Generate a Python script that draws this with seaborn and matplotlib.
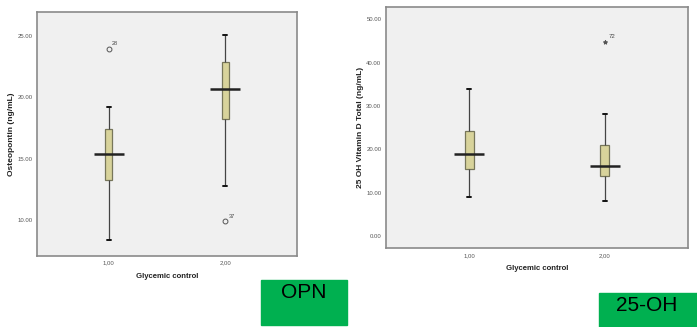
import numpy as np
import pandas as pd
import seaborn as sns
import matplotlib.pyplot as plt
from matplotlib.patches import Rectangle

# group labels on the x axis
groups = ['1,00', '2,00']

# Osteopontin (ng/mL) per glycemic control group, values
opn_g1 = [8.35, 11.0, 12.5, 13.27, 14.0, 14.8, 15.39, 16.0, 16.8, 17.37, 18.0, 19.16, 23.94]
opn_g2 = [9.92, 12.74, 16.0, 18.23, 19.0, 20.0, 20.68, 21.3, 22.0, 22.83, 23.6, 24.3, 25.03]
opn_ticks = [10, 15, 20, 25]
opn_outlier_ids = ['28', '37']

# 25 OH Vitamin D Total (ng/mL)
vitd_g1 = [9.12, 12.0, 14.0, 15.44, 16.5, 17.8, 18.89, 20.5, 22.5, 24.33, 27.0, 30.5, 33.87]
vitd_g2 = [8.06, 11.0, 12.8, 13.89, 14.8, 15.6, 16.27, 17.5, 19.3, 20.97, 23.0, 28.18, 44.84]
vitd_ticks = [0, 10, 20, 30, 40, 50]
vitd_outlier_ids = ['72']

sns.set_style('white')
plt.rcParams['font.family'] = ['Liberation Sans', 'DejaVu Sans']

BOX = '#d8d39b'
FACE = '#f0f0f0'


def make_df(a, b):
    return pd.DataFrame({'group': [groups[0]] * len(a) + [groups[1]] * len(b),
                         'value': a + b})


def draw_panel(ax, df, ticks, ylim, ylabel, marker, msize, mfill):
    sns.boxplot(data=df, x='group', y='value', order=groups, ax=ax,
                width=0.065, color=BOX, saturation=1, linecolor='#77765a',
                linewidth=0.9, fliersize=msize,
                whiskerprops=dict(color='#444444', linewidth=0.9),
                capprops=dict(color='#111111', linewidth=1.4),
                medianprops=dict(color='#222222', linewidth=0),
                flierprops=dict(marker=marker, markerfacecolor=mfill,
                                markeredgecolor='#555555', markeredgewidth=0.7))
    # SPSS style median bar, wider than the box
    sns.pointplot(data=df, x='group', y='value', order=groups, ax=ax,
                  estimator='median', errorbar=None, linestyle='none',
                  markers='_', markersize=21, markeredgewidth=1.8,
                  color='#222222')
    ax.set_facecolor(FACE)
    for s in ax.spines.values():
        s.set_color('#8a8a8a')
        s.set_linewidth(1.2)
    ax.set_xlim(-0.615, 1.615)
    ax.set_ylim(*ylim)
    ax.set_yticks(ticks)
    ax.set_yticklabels([f'{t:.2f}' for t in ticks])
    ax.tick_params(axis='both', direction='out', length=2.5, width=0.7,
                   color='#666666', labelsize=4.3, labelcolor='#555555', pad=0.8)
    ax.set_ylabel(ylabel, fontsize=6, fontweight='bold', color='#222222', labelpad=1.5)
    ax.set_xlabel('Glycemic control', fontsize=5.6, fontweight='bold',
                  color='#222222', labelpad=5)


fig = plt.figure(figsize=(6.97, 3.27), dpi=100)
ax1 = fig.add_axes([0.0531, 0.2171, 0.373, 0.7462])
ax2 = fig.add_axes([0.5538, 0.2407, 0.4333, 0.737])

draw_panel(ax1, make_df(opn_g1, opn_g2), opn_ticks, (7.07, 26.93),
           'Osteopontin (ng/mL)', 'o', 3.5, 'none')
ax1.annotate(opn_outlier_ids[0], (0, max(opn_g1)), xytext=(2.5, 2.5),
             textcoords='offset points', fontsize=4, color='#444444')
ax1.annotate(opn_outlier_ids[1], (1, min(opn_g2)), xytext=(2.5, 2.5),
             textcoords='offset points', fontsize=4, color='#444444')

draw_panel(ax2, make_df(vitd_g1, vitd_g2), vitd_ticks, (-2.76, 52.76),
           '25 OH Vitamin D Total (ng/mL)', '*', 3, '#555555')
ax2.annotate(vitd_outlier_ids[0], (1, max(vitd_g2)), xytext=(2.5, 2.5),
             textcoords='offset points', fontsize=4.3, color='#444444')

# green caption tags
fig.patches.append(Rectangle((261 / 697, 1 - 325 / 327), 86 / 697, 45 / 327,
                             transform=fig.transFigure, color='#00b050', zorder=0))
fig.text(304 / 697, 1 - 292.5 / 327, 'OPN', fontsize=15, ha='center', va='center',
         color='black')
fig.patches.append(Rectangle((599 / 697, 0), 98 / 697, 34.5 / 327,
                             transform=fig.transFigure, color='#00b050', zorder=0))
fig.text(647 / 697, 1 - 305.7 / 327, '25-OH', fontsize=15, ha='center', va='center',
         color='black')

fig.savefig('out.png', dpi=100, facecolor='white')
